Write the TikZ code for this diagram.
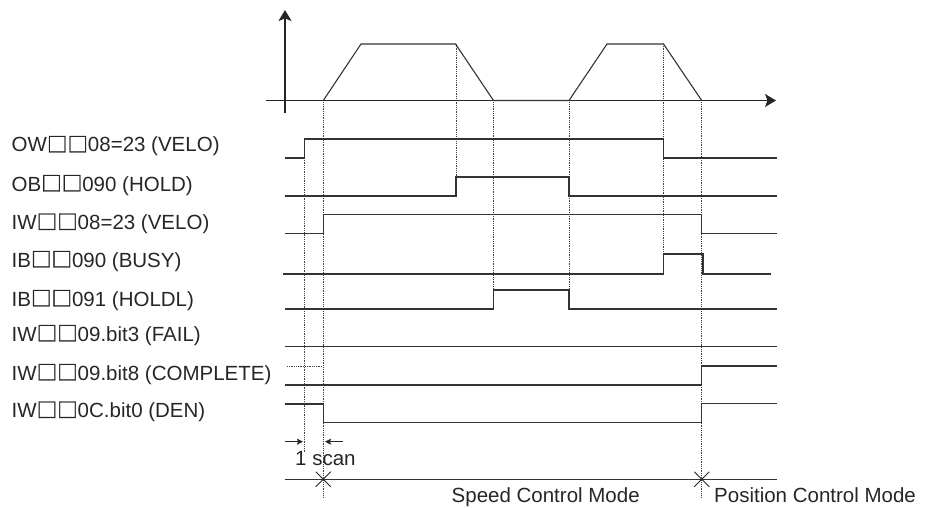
\documentclass[tikz,border=0pt]{standalone}
\usepackage{fontspec}
\setmainfont{Liberation Sans}
\newfontfamily\cjkfont[FakeBold=1.6]{Noto Sans CJK JP}
\usetikzlibrary{arrows.meta}
\newcommand{\bxch}{{\cjkfont □}}
\begin{document}
\begin{tikzpicture}[x=1pt,y=-1pt,
  sig/.style={line width=1.1pt, draw=black!80, line join=miter},
  guide/.style={line width=0.8pt, draw=black!75, densely dotted},
  lbl/.style={anchor=base west, inner sep=0pt, font=\fontsize{20.5}{24}\selectfont, text=black!85},
  axis/.style={line width=1.1pt, draw=black!85, -{Stealth[length=11pt,width=13pt,inset=2.5pt]}},
  scanarrow/.style={line width=0.9pt, draw=black!85, -{Stealth[length=6pt,width=6pt,inset=1pt]}},
  xmark/.style={line width=0.9pt, draw=black!85}]
\useasboundingbox (0,0) rectangle (926,508);

% ---- guide lines (dotted) ----
\draw[guide] (304.5,158) -- (304.5,453);
\draw[guide] (323.3,100.5) -- (323.3,497);
\draw[guide] (456,44) -- (456,196);
\draw[guide] (493.5,100.5) -- (493.5,309);
\draw[guide] (569,100.5) -- (569,309);
\draw[guide] (663.5,44) -- (663.5,274);
\draw[guide] (701.7,100.5) -- (701.7,497);
\draw[guide] (287,366.5) -- (322,366.5);

% ---- top speed chart ----
\coordinate (yb) at (285,113);
\coordinate (yt) at (285,10);
\coordinate (xl) at (266,100.5);
\coordinate (xr) at (776,100.5);
\draw[axis] (yb) -- (yt);
\draw[axis] (xl) -- (xr);
\draw[sig] (323.3,100.5) -- (361,44) -- (455.5,44) -- (493.5,100.5)
  -- (569,100.5) -- (607,44) -- (663.5,44) -- (701.7,100.5);

% ---- signals ----
\draw[sig] (285,158) -- (304.5,158) -- (304.5,139) -- (663.5,139) -- (663.5,158) -- (777,158);
\draw[sig] (285,196) -- (456,196) -- (456,177) -- (569,177) -- (569,196) -- (777,196);
\draw[sig] (285,233.5) -- (323.3,233.5) -- (323.3,214.3) -- (701.7,214.3) -- (701.7,233.5) -- (777,233.5);
\draw[sig] (283,274) -- (663.5,274) -- (663.5,254) -- (703,254) -- (703,274) -- (771,274);
\draw[sig] (285,309) -- (493.5,309) -- (493.5,290) -- (569,290) -- (569,309) -- (777,309);
\draw[sig] (285,346.7) -- (777,346.7);
\draw[sig] (285,385) -- (701.7,385) -- (701.7,366) -- (777,366);
\draw[sig] (285,404) -- (323.3,404) -- (323.3,422.7) -- (701.7,422.7) -- (701.7,403.5) -- (777,403.5);
\draw[sig] (285,479.3) -- (777,479.3);

% ---- 1 scan arrows ----
\coordinate (sa1) at (285,441.7);
\coordinate (sa2) at (303,441.7);
\coordinate (sb1) at (343,441.7);
\coordinate (sb2) at (325,441.7);
\draw[scanarrow] (sa1) -- (sa2);
\draw[scanarrow] (sb1) -- (sb2);

% ---- mode change marks ----
\draw[xmark] (315.8,471.8) -- (330.8,486.8) (315.8,486.8) -- (330.8,471.8);
\draw[xmark] (694.2,471.8) -- (709.2,486.8) (694.2,486.8) -- (709.2,471.8);

% ---- labels ----
\node[lbl] (l1) at (11.5,152) {OW\bxch\bxch08=23 (VELO)};
\node[lbl] (l2) at (11.5,191) {OB\bxch\bxch090 (HOLD)};
\node[lbl] (l3) at (11.5,229.5) {IW\bxch\bxch08=23 (VELO)};
\node[lbl] (l4) at (11.5,267) {IB\bxch\bxch090 (BUSY)};
\node[lbl] (l5) at (11.5,306) {IB\bxch\bxch091 (HOLDL)};
\node[lbl] (l6) at (11.5,341) {IW\bxch\bxch09.bit3 (FAIL)};
\node[lbl] (l7) at (11.5,380) {IW\bxch\bxch09.bit8 (COMPLETE)};
\node[lbl] (l8) at (11.5,417.5) {IW\bxch\bxch0C.bit0 (DEN)};
\node[lbl] (scan) at (295,465) {1 scan};
\node[lbl] (spd) at (451.5,502) {Speed Control Mode};
\node[lbl] (pos) at (714,502) {Position Control Mode};
\end{tikzpicture}
\end{document}
